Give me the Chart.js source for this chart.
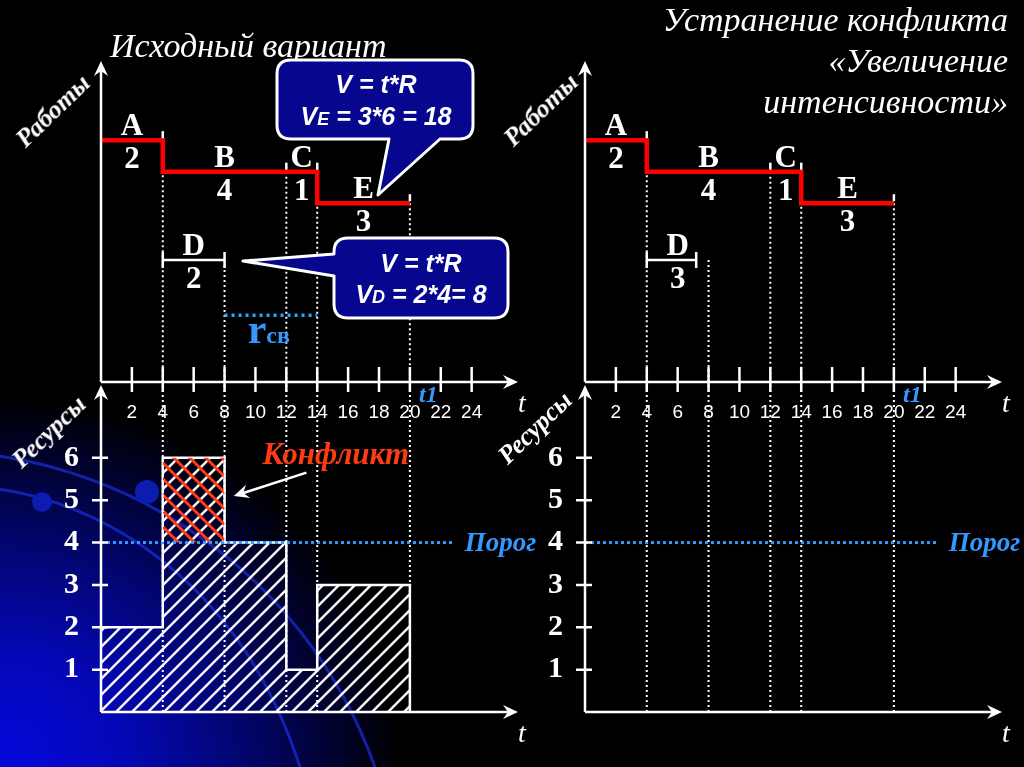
<!DOCTYPE html>
<html>
<head>
<meta charset="utf-8">
<title>Устранение конфликта</title>
<script src="https://cdn.jsdelivr.net/npm/chart.js@4.4.1/dist/chart.umd.min.js"></script>
<style>
  html, body { margin: 0; padding: 0; background: #000; }
  #slide {
    position: relative; width: 1024px; height: 767px; overflow: hidden;
    background: radial-gradient(ellipse 400px 370px at 0px 767px, #0608dc 0%, #0408b8 30%, #02056a 62%, #000 100%);
  }
  #slide canvas, #slide svg { position: absolute; }
  .txt { position: absolute; white-space: nowrap; color: #fff; font-family: "Liberation Serif", "DejaVu Serif", serif; line-height: 1; }
  .title { font-style: italic; font-size: 34px; }
  .axt { font-style: italic; font-weight: bold; font-size: 26px; transform: translate(-50%, -50%) rotate(-44deg); }
</style>
</head>
<body>
<div id="slide">
  <svg id="bg" width="1024" height="767" style="left:0;top:0">
    <path d="M -10 455 C 120 470, 300 560, 375 767" stroke="#1a2cd0" stroke-width="3" fill="none" opacity="0.75"/>
    <path d="M -10 488 C 100 500, 240 580, 300 767" stroke="#1a2cd0" stroke-width="3" fill="none" opacity="0.75"/>
    <circle cx="147" cy="492" r="12" fill="#0c1cb0"/>
    <circle cx="42" cy="502" r="10" fill="#0c1cb0"/>
  </svg>

  <canvas id="jobsL" width="540" height="440" style="left:0;top:0"></canvas>
  <canvas id="loadL" width="540" height="387" style="left:0;top:380px"></canvas>
  <canvas id="jobsR" width="540" height="440" style="left:484px;top:0"></canvas>
  <canvas id="loadR" width="540" height="387" style="left:484px;top:380px"></canvas>

  <div class="txt title" style="left:110px;top:29px">Исходный вариант</div>
  <div class="txt title" style="right:16px;top:-1px;text-align:right;line-height:41px">Устранение конфликта<br>«Увеличение<br>интенсивности»</div>

  <div class="txt axt" style="left:53px;top:111px">Работы</div>
  <div class="txt axt" style="left:49px;top:432px">Ресурсы</div>
  <div class="txt axt" style="left:541px;top:110px">Работы</div>
  <div class="txt axt" style="left:535px;top:428px">Ресурсы</div>

  <svg id="notes" width="1024" height="767" style="left:0;top:0">
    <g fill="#06068f" stroke="#ffffff" stroke-width="3" stroke-linejoin="round">
      <path d="M 291 60 H 459 Q 473 60 473 74 V 125 Q 473 139 459 139 H 440 L 378 195 L 389 139 H 291 Q 277 139 277 125 V 74 Q 277 60 291 60 Z"/>
      <path d="M 348 238 H 494 Q 508 238 508 252 V 304 Q 508 318 494 318 H 348 Q 334 318 334 304 V 276 L 243 261 L 334 254 V 252 Q 334 238 348 238 Z"/>
    </g>
    <g fill="#ffffff" font-family="Liberation Sans, Arial, sans-serif" font-weight="bold" font-style="italic" font-size="25" text-anchor="middle">
      <text x="376" y="93">V = t*R</text>
      <text x="376" y="125">V<tspan font-size="18">E</tspan> = 3*6 = 18</text>
      <text x="421" y="272">V = t*R</text>
      <text x="421" y="303">V<tspan font-size="18">D</tspan> = 2*4= 8</text>
    </g>
  </svg>
</div>

<script>
// работы: имя, начало, окончание, ресурс, строка на диаграмме
var jobNames = ['A', 'B', 'C', 'D', 'E'];
var jobStart = [0, 4, 12, 4, 14];
var jobEnd = [4, 12, 14, 8, 20];
var jobRes = [2, 4, 1, 2, 3];
var jobRow = [1, 2, 2, 4.8, 3];
var criticalPath = ['A', 'B', 'C', 'E'];

// после увеличения интенсивности работы D
var jobEnd2 = [4, 12, 14, 7.2, 20];
var jobRes2 = [2, 4, 1, 3, 3];

var timeTicks = [2, 4, 6, 8, 10, 12, 14, 16, 18, 20, 22, 24];
var resTicks = [1, 2, 3, 4, 5, 6];

// профиль ресурсов исходного варианта
var loadTime = [0, 4, 8, 12, 14, 20];
var loadValue = [2, 6, 4, 1, 3, 0];

var threshold = 4;
var t1 = 21.2;
var freeRes = [8, 14];

var X_MAX = 27;
var ROW_MIN = -1.51, ROW_MAX = 8.67;
var RES_MAX = 7.72;

var SERIF = '"Liberation Serif", "DejaVu Serif", serif';
var SANS = '"Liberation Sans", Arial, sans-serif';
var BLUE = '#3399ff';

function hatch(color, width, dir) {
    var c = document.createElement('canvas');
    c.width = 16; c.height = 16;
    var g = c.getContext('2d');
    g.strokeStyle = color;
    g.lineWidth = width;
    g.beginPath();
    if (dir > 0) {
        g.moveTo(0, 16); g.lineTo(16, 0);
        g.moveTo(-2, 2); g.lineTo(2, -2);
        g.moveTo(14, 18); g.lineTo(18, 14);
    } else {
        g.moveTo(0, 0); g.lineTo(16, 16);
        g.moveTo(-2, 14); g.lineTo(2, 18);
        g.moveTo(14, -2); g.lineTo(18, 2);
    }
    g.stroke();
    return g.createPattern(c, 'repeat');
}

function arrowHead(c, x, y, dx, dy) {
    var L = 15, w = 7, n = 10;
    var nx = -dy, ny = dx;
    c.beginPath();
    c.moveTo(x, y);
    c.lineTo(x - dx * L + nx * w, y - dy * L + ny * w);
    c.lineTo(x - dx * n, y - dy * n);
    c.lineTo(x - dx * L - nx * w, y - dy * L - ny * w);
    c.closePath();
    c.fill();
}

var axesPlugin = {
    id: 'axes',
    afterDraw: function (chart, args, opts) {
        var a = chart.chartArea, c = chart.ctx;
        c.save();
        c.strokeStyle = '#fff';
        c.fillStyle = '#fff';
        c.lineWidth = 2.5;
        c.beginPath();
        c.moveTo(a.left, a.bottom); c.lineTo(a.left, a.top + 8);
        c.moveTo(a.left, a.bottom); c.lineTo(a.right - 8, a.bottom);
        if (opts.xTicks) {
            timeTicks.forEach(function (v) {
                var x = chart.scales.x.getPixelForValue(v);
                c.moveTo(x, a.bottom - 15); c.lineTo(x, a.bottom + 10);
            });
        }
        if (opts.yTicks) {
            resTicks.forEach(function (v) {
                var y = chart.scales.y.getPixelForValue(v);
                c.moveTo(a.left - 9, y); c.lineTo(a.left + 7, y);
            });
        }
        c.stroke();
        arrowHead(c, a.left, a.top, 0, -1);
        arrowHead(c, a.right, a.bottom, 1, 0);
        c.font = 'italic 28px ' + SERIF;
        c.textAlign = 'center';
        c.textBaseline = 'middle';
        c.fillText('t', a.right + 4, a.bottom + 23);
        c.restore();
    }
};

var jobsPlugin = {
    id: 'jobs',
    afterDatasetsDraw: function (chart, args, opts) {
        var c = chart.ctx, xs = chart.scales.x, ys = chart.scales.y, a = chart.chartArea;
        c.save();
        c.strokeStyle = '#fff';
        c.fillStyle = '#fff';
        c.lineWidth = 2.5;
        jobNames.forEach(function (n, i) {
            var y = ys.getPixelForValue(jobRow[i]);
            var x0 = xs.getPixelForValue(jobStart[i]);
            var x1 = xs.getPixelForValue(opts.ends[i]);
            c.beginPath();
            if (criticalPath.indexOf(n) >= 0) {
                c.moveTo(x1, y - 9); c.lineTo(x1, y - 2);
            } else {
                c.moveTo(x0, y - 8); c.lineTo(x0, y + 8);
                c.moveTo(x1, y - 8); c.lineTo(x1, y + 8);
            }
            c.stroke();
            var xm = xs.getPixelForValue((jobStart[i] + jobEnd[i]) / 2);
            c.font = 'bold 31px ' + SERIF;
            c.textAlign = 'center';
            c.textBaseline = 'alphabetic';
            c.fillText(n, xm, y - 5);
            c.fillText(String(opts.res[i]), xm, y + 28);
        });
        c.fillStyle = BLUE;
        c.font = 'italic bold 24px ' + SERIF;
        c.textAlign = 'center';
        c.textBaseline = 'middle';
        c.fillText('t1', xs.getPixelForValue(t1), a.bottom + 14);
        if (opts.notes) {
            var rx = xs.getPixelForValue(9.5), ry = ys.getPixelForValue(6.55) + 28;
            c.textAlign = 'left';
            c.textBaseline = 'alphabetic';
            c.font = 'bold 42px ' + SERIF;
            c.fillText('r', rx, ry);
            var w = c.measureText('r').width;
            c.font = 'bold 24px ' + SERIF;
            c.fillText('св', rx + w, ry);
        }
        c.restore();
    }
};

var loadPlugin = {
    id: 'load',
    afterDatasetsDraw: function (chart, args, opts) {
        var c = chart.ctx, xs = chart.scales.x, ys = chart.scales.y, a = chart.chartArea;
        c.save();
        c.strokeStyle = '#fff';
        c.lineWidth = 2;
        c.setLineDash([2, 3]);
        c.beginPath();
        jobEnd.forEach(function (t) {
            var x = xs.getPixelForValue(t);
            c.moveTo(x, a.top); c.lineTo(x, a.bottom);
        });
        c.stroke();
        c.setLineDash([]);
        c.fillStyle = BLUE;
        c.font = 'italic bold 27px ' + SERIF;
        c.textAlign = 'left';
        c.textBaseline = 'middle';
        c.fillText('Порог', xs.getPixelForValue(22.9) + 10, ys.getPixelForValue(threshold) + 1);
        if (opts.notes) {
            c.fillStyle = '#ff3b14';
            c.font = 'italic bold 31px ' + SERIF;
            c.textAlign = 'center';
            c.fillText('Конфликт', xs.getPixelForValue(15.2), ys.getPixelForValue(6.05));
            var x0 = xs.getPixelForValue(13.3), y0 = ys.getPixelForValue(5.65);
            var x1 = xs.getPixelForValue(8.6), y1 = ys.getPixelForValue(5.1);
            c.strokeStyle = '#fff';
            c.fillStyle = '#fff';
            c.lineWidth = 2.5;
            c.beginPath(); c.moveTo(x0, y0); c.lineTo(x1 + 8, y1 - 2.5); c.stroke();
            var len = Math.hypot(x1 - x0, y1 - y0);
            arrowHead(c, x1, y1, (x1 - x0) / len, (y1 - y0) / len);
        }
        c.restore();
    }
};

function jobsChart(id, ends, res, notes) {
    var ctx = document.getElementById(id).getContext('2d');
    var datasets = [];
    var cp = criticalPath.map(function (n) {
        var i = jobNames.indexOf(n);
        return { x: jobStart[i], y: jobRow[i] };
    });
    var li = jobNames.indexOf(criticalPath[criticalPath.length - 1]);
    cp.push({ x: ends[li], y: jobRow[li] });
    datasets.push({ data: cp, borderColor: '#ff0000', borderWidth: 4.5, stepped: 'before', order: 0 });
    jobNames.forEach(function (n, i) {
        if (criticalPath.indexOf(n) < 0) {
            datasets.push({ data: [{ x: jobStart[i], y: jobRow[i] }, { x: ends[i], y: jobRow[i] }],
                borderColor: '#fff', borderWidth: 2.5, order: 1 });
        }
    });
    // линии событий исходного графика
    jobNames.forEach(function (n, i) {
        datasets.push({ data: [{ x: jobEnd[i], y: jobRow[i] }, { x: jobEnd[i], y: ROW_MAX }],
            borderColor: '#fff', borderWidth: 2, borderDash: [2, 3], order: 3 });
    });
    if (notes) {
        datasets.push({ data: [{ x: freeRes[0], y: 6.55 }, { x: freeRes[1], y: 6.55 }],
            borderColor: '#22aaff', borderWidth: 3.5, borderDash: [3, 4], order: 2 });
    }
    return new Chart(ctx, {
        type: 'line',
        data: { datasets: datasets },
        options: {
            responsive: false,
            animation: false,
            events: [],
            layout: { padding: { left: 101, right: 22, top: 61, bottom: 18 } },
            elements: { point: { radius: 0 }, line: { tension: 0 } },
            plugins: {
                legend: { display: false },
                tooltip: { enabled: false },
                axes: { xTicks: true },
                jobs: { ends: ends, res: res, notes: notes }
            },
            scales: {
                x: {
                    type: 'linear', min: 0, max: X_MAX,
                    grid: { display: false, drawTicks: false },
                    border: { display: false },
                    afterBuildTicks: function (s) {
                        s.ticks = timeTicks.map(function (v) { return { value: v }; });
                    },
                    afterFit: function (s) { s.height = 40; s.paddingLeft = 0; s.paddingRight = 0; },
                    ticks: { color: '#fff', padding: 19, autoSkip: false, maxRotation: 0,
                        font: { family: SANS, size: 19 } }
                },
                y: { type: 'linear', reverse: true, min: ROW_MIN, max: ROW_MAX, display: false }
            }
        },
        plugins: [axesPlugin, jobsPlugin]
    });
}

function loadChart(id, showLoad) {
    var ctx = document.getElementById(id).getContext('2d');
    var datasets = [{
        data: [{ x: 0, y: threshold }, { x: 22.9, y: threshold }],
        borderColor: BLUE, borderWidth: 3, borderDash: [3, 3], order: 0
    }];
    if (showLoad) {
        datasets.push({
            data: loadTime.map(function (t, i) { return { x: t, y: loadValue[i] }; }),
            stepped: 'before', borderColor: '#fff', borderWidth: 2.5,
            backgroundColor: hatch('#ffffff', 2.4, 1), fill: 'start', order: 2
        });
        for (var i = 0; i < loadTime.length - 1; i++) {
            if (loadValue[i] > threshold) {
                datasets.push({
                    data: [{ x: loadTime[i], y: loadValue[i] }, { x: loadTime[i + 1], y: loadValue[i] }],
                    borderColor: 'rgba(0,0,0,0)', borderWidth: 1,
                    backgroundColor: hatch('#ff3b14', 3, -1), fill: { value: threshold }, order: 1
                });
            }
        }
    }
    return new Chart(ctx, {
        type: 'line',
        data: { datasets: datasets },
        options: {
            responsive: false,
            animation: false,
            events: [],
            layout: { padding: { left: 51, right: 22, top: 5, bottom: 55 } },
            elements: { point: { radius: 0 }, line: { tension: 0 } },
            plugins: {
                legend: { display: false },
                tooltip: { enabled: false },
                axes: { yTicks: true },
                load: { notes: showLoad }
            },
            scales: {
                x: { type: 'linear', min: 0, max: X_MAX, display: false },
                y: {
                    type: 'linear', min: 0, max: RES_MAX,
                    grid: { display: false, drawTicks: false },
                    border: { display: false },
                    afterBuildTicks: function (s) {
                        s.ticks = resTicks.map(function (v) { return { value: v }; });
                    },
                    afterFit: function (s) { s.width = 50; s.paddingTop = 0; s.paddingBottom = 0; },
                    ticks: { color: '#fff', padding: 22,
                        font: { family: SERIF, size: 30, weight: 'bold' } }
                }
            }
        },
        plugins: [axesPlugin, loadPlugin]
    });
}

jobsChart('jobsL', jobEnd, jobRes, true);
loadChart('loadL', true);
jobsChart('jobsR', jobEnd2, jobRes2, false);
loadChart('loadR', false);
</script>
</body>
</html>
